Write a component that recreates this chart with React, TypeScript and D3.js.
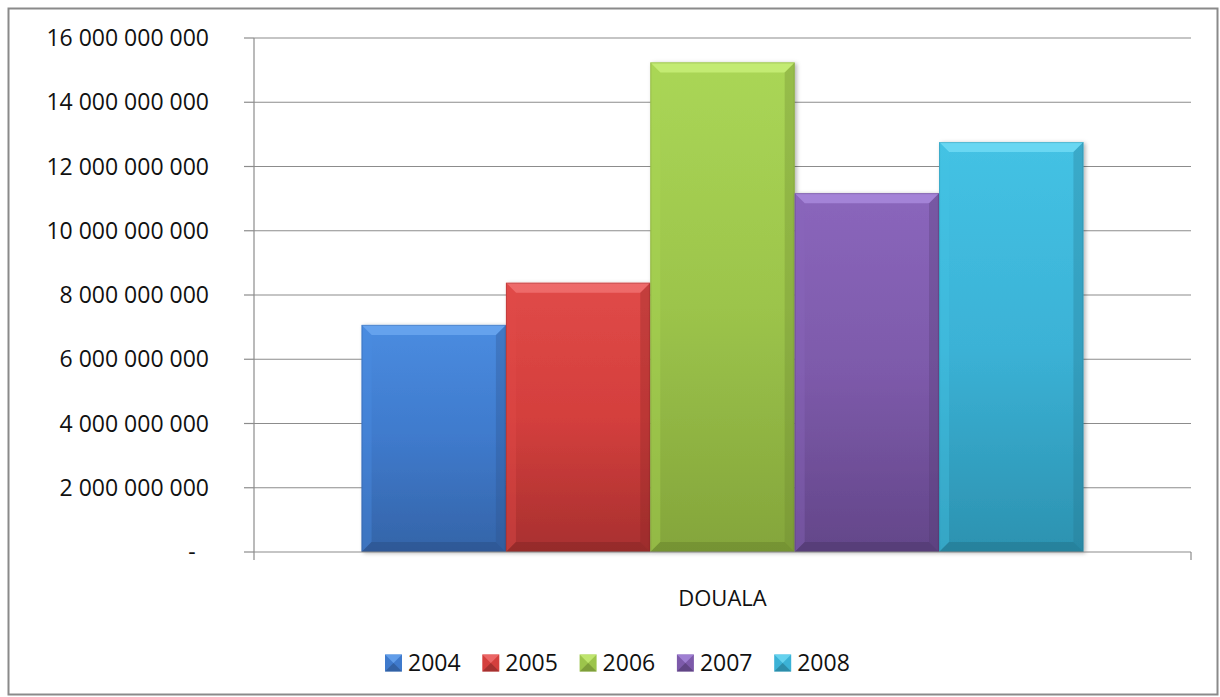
import React from "react";
import * as d3 from "d3";

const categories = ["DOUALA"];
const years = ["2004", "2005", "2006", "2007", "2008"];
const values2004 = [7.07e9];
const values2005 = [8.38e9];
const values2006 = [15.24e9];
const values2007 = [11.17e9];
const values2008 = [12.76e9];
const seriesValues = [values2004, values2005, values2006, values2007, values2008];
const yTicks = [0, 2e9, 4e9, 6e9, 8e9, 10e9, 12e9, 14e9, 16e9];

const palette = [
  { top: "#4a8ce0", mid: "#3f7acc", bot: "#3464a8", light: "#6aa6f0", dark: "#2a5088" },
  { top: "#e04a48", mid: "#d43f3d", bot: "#a8302f", light: "#f07070", dark: "#862626" },
  { top: "#aad656", mid: "#9cc44b", bot: "#84a53b", light: "#c8ee78", dark: "#6a852e" },
  { top: "#8a66bc", mid: "#7d5aaa", bot: "#634689", light: "#a888dc", dark: "#4e376c" },
  { top: "#44c2e4", mid: "#3bb2d6", bot: "#2c92b0", light: "#70daf4", dark: "#23748c" },
];

const FONT = "'Open Sans', 'Liberation Sans', sans-serif";

export default function App() {
  const W = 1220, H = 697;
  const left = 254, right = 1191, top = 38, bottom = 552;
  const y = d3.scaleLinear().domain([0, 16e9]).range([bottom, top]);
  const x0 = d3.scaleBand<string>().domain(categories).range([left, right]).padding(0);
  const x1 = d3.scaleBand<string>().domain(years).range([0, x0.bandwidth()]).paddingInner(0).paddingOuter(0.745);
  const locale = d3.formatLocale({ thousands: " ", grouping: [3], decimal: ",", currency: ["", ""] });
  const fmt = locale.format(",.0f");
  const bev = 10;

  return (
    <svg width={W} height={H} style={{ position: "absolute", left: 0, top: 0, background: "#fff" }}>
      <defs>
        {palette.map((c, i) => (
          <linearGradient key={i} id={`g${i}`} x1="0" y1="0" x2="0" y2="1">
            <stop offset="0" stopColor={c.top} />
            <stop offset="0.5" stopColor={c.mid} />
            <stop offset="1" stopColor={c.bot} />
          </linearGradient>
        ))}
        <filter id="shadow" x="-10%" y="-10%" width="130%" height="120%">
          <feDropShadow dx="2" dy="1" stdDeviation="2" floodColor="#000" floodOpacity="0.3" />
        </filter>
      </defs>
      <rect x={8.5} y={8.5} width={1209} height={686} fill="#fff" stroke="#8a8a8a" strokeWidth={2} />
      {yTicks.map((t) => (
        <g key={t}>
          {t > 0 && <line x1={left} x2={right} y1={y(t)} y2={y(t)} stroke="#8c8c8c" strokeWidth={1.2} />}
          <line x1={left - 10} x2={left} y1={y(t)} y2={y(t)} stroke="#8c8c8c" strokeWidth={1.2} />
          {t === 0 ? (
            <text x={192} y={y(t)} dy="0.35em" textAnchor="middle" fontFamily={FONT} fontSize={23} fill="#111">-</text>
          ) : (
            <text x={209} y={y(t)} dy="0.35em" textAnchor="end" fontFamily={FONT} fontSize={23} fill="#111">{fmt(t)}</text>
          )}
        </g>
      ))}
      {categories.map((cat, ci) => (
        <g key={cat}>
          {years.map((yr, si) => {
            const v = seriesValues[si][ci];
            const bx = (x0(cat) as number) + (x1(yr) as number);
            const bw = x1.bandwidth();
            const by = y(v);
            const bh = y(0) - y(v);
            const c = palette[si];
            return (
              <g key={yr}>
                <rect x={bx} y={by} width={bw} height={bh} fill={`url(#g${si})`} filter="url(#shadow)" />
                <polygon points={`${bx},${by} ${bx + bw},${by} ${bx + bw - bev},${by + bev} ${bx + bev},${by + bev}`} fill={c.light} opacity={0.85} />
                <polygon points={`${bx},${by} ${bx + bev},${by + bev} ${bx + bev},${by + bh - bev} ${bx},${by + bh}`} fill={c.top} opacity={0.4} />
                <polygon points={`${bx + bw},${by} ${bx + bw - bev},${by + bev} ${bx + bw - bev},${by + bh - bev} ${bx + bw},${by + bh}`} fill={c.dark} opacity={0.3} />
                <polygon points={`${bx},${by + bh} ${bx + bev},${by + bh - bev} ${bx + bw - bev},${by + bh - bev} ${bx + bw},${by + bh}`} fill={c.dark} opacity={0.55} />
                <rect x={bx + 0.5} y={by + 0.5} width={bw - 1} height={bh - 1} fill="none" stroke={c.dark} strokeOpacity={0.3} />
              </g>
            );
          })}
          <text x={(x0(cat) as number) + x0.bandwidth() / 2} y={598} dy="0.35em" textAnchor="middle" fontFamily={FONT} fontSize={22} fill="#111">{cat}</text>
        </g>
      ))}
      <line x1={left} x2={left} y1={top} y2={560} stroke="#8c8c8c" strokeWidth={1.2} />
      <line x1={left} x2={right} y1={bottom} y2={bottom} stroke="#8c8c8c" strokeWidth={1.2} />
      <line x1={right} x2={right} y1={bottom} y2={560} stroke="#8c8c8c" strokeWidth={1.2} />
      {years.map((yr, i) => {
        const lx = 385 + i * 97.3;
        const c = palette[i];
        const s = 17;
        const cy = 663;
        return (
          <g key={yr}>
            <rect x={lx} y={cy - s / 2} width={s} height={s} fill={c.mid} />
            <polygon points={`${lx},${cy - s / 2} ${lx + s},${cy - s / 2} ${lx + s / 2},${cy}`} fill={c.light} opacity={0.8} />
            <polygon points={`${lx},${cy + s / 2} ${lx + s},${cy + s / 2} ${lx + s / 2},${cy}`} fill={c.dark} opacity={0.6} />
            <text x={lx + 23} y={cy} dy="0.35em" fontFamily={FONT} fontSize={23} fill="#111">{yr}</text>
          </g>
        );
      })}
    </svg>
  );
}
